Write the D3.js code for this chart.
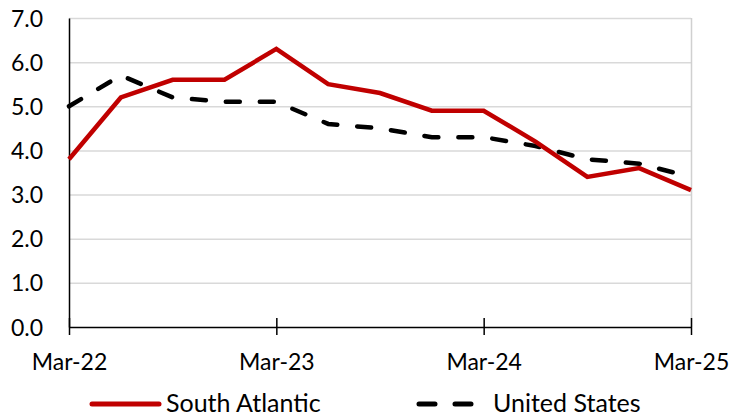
<!DOCTYPE html>
<html><head><meta charset="utf-8">
<script src="https://cdn.jsdelivr.net/npm/d3@7"></script>
<style>body{margin:0;background:#fff}svg{display:block}text{font-family:Lato,"Open Sans",sans-serif;fill:#000}</style>
</head><body><svg id="c" width="734" height="417"></svg>
<script>
const quarters = ["Mar-22","Jun-22","Sep-22","Dec-22","Mar-23","Jun-23","Sep-23","Dec-23","Mar-24","Jun-24","Sep-24","Dec-24","Mar-25"];
const southAtlantic = [3.8,5.2,5.6,5.6,6.3,5.5,5.3,4.9,4.9,4.2,3.4,3.6,3.1];
const unitedStates = [5.0,5.7,5.2,5.1,5.1,4.6,4.5,4.3,4.3,4.1,3.8,3.7,3.4];
const yTicks = [0,1,2,3,4,5,6,7];
const xTickLabels = ["Mar-22","Mar-23","Mar-24","Mar-25"];

const svg = d3.select("#c");
const L=69,R=691,T=18,B=327;
const x = d3.scalePoint().domain(quarters).range([L,R]).padding(0);
const y = d3.scaleLinear().domain([0,7]).range([B,T]);

// gridlines
svg.append("g").selectAll("line").data(yTicks.filter(d=>d>0)).join("line")
  .attr("x1",L).attr("x2",R).attr("y1",d=>y(d)+0.5).attr("y2",d=>y(d)+0.5)
  .attr("stroke","#d9d9d9").attr("stroke-width",1.5);
svg.append("line").attr("x1",R+0.5).attr("x2",R+0.5).attr("y1",T).attr("y2",B).attr("stroke","#d0d0d0").attr("stroke-width",1.5);

// y axis
const ya = svg.append("g").attr("transform",`translate(${L},0)`)
  .call(d3.axisLeft(y).tickValues(yTicks).tickFormat(d3.format(".1f")).tickSize(0).tickPadding(26));
ya.select(".domain").attr("stroke","#000").attr("stroke-width",1.5);
ya.selectAll("text").style("font-size","23px").style("font-family","Lato").attr("dy","0.35em");

// x axis
const xa = svg.append("g").attr("transform",`translate(0,${B})`)
  .call(d3.axisBottom(x).tickValues(xTickLabels).tickSize(0).tickPadding(0));
xa.select(".domain").attr("stroke","#000").attr("stroke-width",1.5);
xa.selectAll(".tick line").attr("y1",-9).attr("y2",8).attr("stroke","#000").attr("stroke-width",1.5);
xa.selectAll("text").style("font-size","23px").style("font-family","Lato").attr("y",43).attr("dy",null);

const line = d3.line().x((d,i)=>x(quarters[i])).y(d=>y(d));
svg.append("path").datum(unitedStates).attr("d",line).attr("fill","none")
  .attr("stroke","#000").attr("stroke-width",4.5).attr("stroke-dasharray","14,20").attr("stroke-linecap","round");
svg.append("path").datum(southAtlantic).attr("d",line).attr("fill","none")
  .attr("stroke","#c00000").attr("stroke-width",4.5).attr("stroke-linejoin","miter");

// legend
const lg = svg.append("g");
lg.append("line").attr("x1",92).attr("x2",159).attr("y1",404).attr("y2",404).attr("stroke","#c00000").attr("stroke-width",5).attr("stroke-linecap","round");
lg.append("text").attr("x",166).attr("y",412).style("font-size","25px").text("South Atlantic");
lg.append("line").attr("x1",419).attr("x2",476).attr("y1",404).attr("y2",404).attr("stroke","#000").attr("stroke-width",5).attr("stroke-dasharray","16,20").attr("stroke-linecap","round");
lg.append("text").attr("x",493).attr("y",412).style("font-size","25px").text("United States");
</script></body></html>
